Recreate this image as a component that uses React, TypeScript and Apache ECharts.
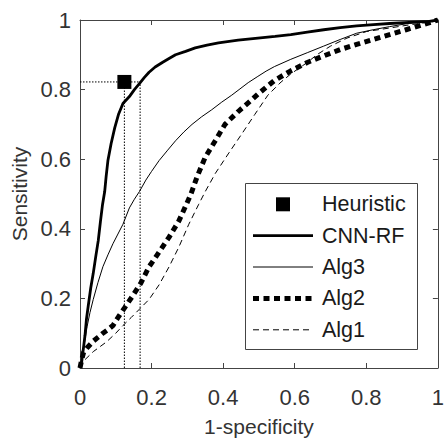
import React, { useEffect, useRef } from "react";
import * as echarts from "echarts";

const X_TICKS = ["0", "0.2", "0.4", "0.6", "0.8", "1"];
const Y_TICKS = ["0", "0.2", "0.4", "0.6", "0.8", "1"];
const LEGEND_NAMES = ["Heuristic", "CNN-RF", "Alg3", "Alg2", "Alg1"];

const HEURISTIC: number[][] = [[0.124, 0.822]];

const CNN_RF: number[][] = [
  [0, 0], [0.005, 0.02], [0.01, 0.06], [0.014, 0.094], [0.018, 0.14], [0.023, 0.178],
  [0.03, 0.23], [0.037, 0.272], [0.044, 0.32], [0.051, 0.366], [0.057, 0.42], [0.063, 0.47],
  [0.069, 0.507], [0.073, 0.55], [0.078, 0.596], [0.087, 0.645], [0.097, 0.69], [0.108, 0.73],
  [0.12, 0.76], [0.138, 0.78], [0.152, 0.8], [0.166, 0.817], [0.18, 0.835], [0.193, 0.85],
  [0.21, 0.865], [0.23, 0.878], [0.25, 0.89], [0.267, 0.9], [0.295, 0.91], [0.322, 0.92],
  [0.355, 0.928], [0.387, 0.934], [0.442, 0.942], [0.497, 0.948], [0.545, 0.953], [0.589, 0.958],
  [0.635, 0.965], [0.681, 0.972], [0.727, 0.978], [0.773, 0.983], [0.82, 0.987], [0.865, 0.99],
  [0.92, 0.993], [0.976, 0.996], [1, 1],
];

const ALG3: number[][] = [
  [0, 0], [0.006, 0.03], [0.012, 0.07], [0.02, 0.12], [0.028, 0.16], [0.037, 0.197],
  [0.05, 0.245], [0.064, 0.291], [0.078, 0.325], [0.092, 0.357], [0.106, 0.385], [0.12, 0.413],
  [0.138, 0.46], [0.152, 0.485], [0.166, 0.507], [0.184, 0.54], [0.2, 0.565], [0.221, 0.596],
  [0.245, 0.626], [0.267, 0.653], [0.29, 0.678], [0.313, 0.7], [0.34, 0.722], [0.368, 0.742],
  [0.396, 0.764], [0.424, 0.784], [0.447, 0.802], [0.47, 0.82], [0.497, 0.838], [0.52, 0.853],
  [0.543, 0.866], [0.589, 0.887], [0.635, 0.906], [0.681, 0.925], [0.727, 0.944], [0.773, 0.962],
  [0.819, 0.972], [0.865, 0.981], [0.911, 0.989], [0.96, 0.995], [1, 1],
];

const ALG2: number[][] = [
  [0, 0], [0.004, 0.02], [0.01, 0.045], [0.02, 0.058], [0.037, 0.077], [0.05, 0.088],
  [0.064, 0.1], [0.078, 0.11], [0.092, 0.122], [0.108, 0.148], [0.124, 0.172], [0.147, 0.207],
  [0.17, 0.244], [0.193, 0.291], [0.221, 0.333], [0.249, 0.376], [0.276, 0.422], [0.295, 0.465],
  [0.31, 0.5], [0.327, 0.549], [0.35, 0.606], [0.378, 0.653], [0.405, 0.7], [0.442, 0.737],
  [0.479, 0.77], [0.497, 0.787], [0.543, 0.826], [0.589, 0.854], [0.635, 0.878], [0.681, 0.897],
  [0.727, 0.915], [0.773, 0.93], [0.819, 0.944], [0.865, 0.958], [0.911, 0.972], [0.957, 0.986],
  [1, 1],
];

const ALG1: number[][] = [
  [0, 0], [0.009, 0.019], [0.037, 0.047], [0.074, 0.075], [0.1, 0.1], [0.12, 0.122],
  [0.143, 0.145], [0.166, 0.169], [0.193, 0.197], [0.221, 0.239], [0.249, 0.291], [0.276, 0.347],
  [0.304, 0.413], [0.331, 0.469], [0.35, 0.507], [0.378, 0.559], [0.414, 0.615], [0.451, 0.671],
  [0.488, 0.728], [0.525, 0.784], [0.562, 0.822], [0.589, 0.845], [0.635, 0.878], [0.663, 0.901],
  [0.7, 0.925], [0.746, 0.948], [0.801, 0.967], [0.865, 0.977], [0.92, 0.986], [0.985, 0.995],
  [1, 1],
];

const GUIDE_H: number[][] = [[0, 0.822], [0.168, 0.822]];
const GUIDE_V1: number[][] = [[0.124, 0], [0.124, 0.822]];
const GUIDE_V2: number[][] = [[0.168, 0], [0.168, 0.822]];

const FONT = "'Liberation Sans', Arial, Helvetica, sans-serif";
const AXIS_COLOR = "#444";
const LABEL_COLOR = "#333";

const STYLE_CNN = { stroke: "#000", lineWidth: 2.8 };
const STYLE_ALG3 = { stroke: "#000", lineWidth: 1 };
const STYLE_ALG2 = { stroke: "#000", lineWidth: 5, lineDash: [6, 4.5] };
const STYLE_ALG1 = { stroke: "#000", lineWidth: 1, lineDash: [6, 4] };

export default function App() {
  const ref = useRef<HTMLDivElement>(null);

  useEffect(() => {
    if (!ref.current) return;
    const chart = echarts.init(ref.current, undefined, { renderer: "svg" });

    const fmt = (labels: string[]) => (v: number) => labels[Math.round(v / 0.2)] ?? "";

    const baseAxis = {
      type: "value" as const,
      min: 0,
      max: 1,
      interval: 0.2,
      splitLine: { show: false },
      axisLine: { show: true, onZero: false, lineStyle: { color: AXIS_COLOR, width: 1 } },
      axisTick: { show: true, inside: true, length: 5, lineStyle: { color: AXIS_COLOR } },
    };

    const guideStyle = { color: "#000", width: 1, type: [1.5, 1.5] as number[] };

    // legend drawn as graphic
    const boxX = 245, boxY = 183, boxW = 172, boxH = 166;
    const rowY = [204.3, 235.6, 267, 298.4, 329.8];
    const lineX1 = 253, lineX2 = 313, textX = 322;
    const lineStyles = [null, STYLE_CNN, STYLE_ALG3, STYLE_ALG2, STYLE_ALG1];
    const legendChildren: any[] = [
      {
        type: "rect",
        shape: { x: boxX + 0.5, y: boxY + 0.5, width: boxW, height: boxH },
        style: { fill: "#fff", stroke: AXIS_COLOR, lineWidth: 1 },
      },
    ];
    LEGEND_NAMES.forEach((name, i) => {
      const ls = lineStyles[i];
      if (ls) {
        legendChildren.push({
          type: "line",
          shape: { x1: lineX1, y1: rowY[i], x2: lineX2, y2: rowY[i] },
          style: { ...ls },
        });
      } else {
        legendChildren.push({
          type: "rect",
          shape: { x: (lineX1 + lineX2) / 2 - 7, y: rowY[i] - 7, width: 14, height: 14 },
          style: { fill: "#000" },
        });
      }
      legendChildren.push({
        type: "text",
        x: textX,
        y: rowY[i],
        style: {
          text: name,
          fontFamily: FONT,
          fontSize: 21.5,
          fill: "#1a1a1a",
          verticalAlign: "middle",
          align: "left",
        },
      });
    });

    chart.setOption({
      animation: false,
      backgroundColor: "#fff",
      grid: { left: 80, right: 5, top: 20, bottom: 67, containLabel: false },
      xAxis: [
        {
          ...baseAxis,
          position: "bottom",
          name: "1-specificity",
          nameLocation: "middle",
          nameGap: 48,
          nameTextStyle: { fontFamily: FONT, fontSize: 21, color: LABEL_COLOR },
          axisLabel: { formatter: fmt(X_TICKS), fontFamily: FONT, fontSize: 22, color: LABEL_COLOR, margin: 18 },
        },
        {
          ...baseAxis,
          position: "top",
          axisLabel: { show: false },
        },
      ],
      yAxis: [
        {
          ...baseAxis,
          position: "left",
          name: "Sensitivity",
          nameLocation: "middle",
          nameGap: 50,
          nameTextStyle: { fontFamily: FONT, fontSize: 21, color: LABEL_COLOR },
          axisLabel: { formatter: fmt(Y_TICKS), fontFamily: FONT, fontSize: 22, color: LABEL_COLOR, margin: 9 },
        },
        {
          ...baseAxis,
          position: "right",
          axisLabel: { show: false },
        },
      ],
      graphic: [{ type: "group", children: legendChildren, z: 100 }],
      series: [
        {
          name: "guideH", type: "line", data: GUIDE_H, showSymbol: false, symbol: "none",
          lineStyle: guideStyle, silent: true, z: 1,
        },
        {
          name: "guideV1", type: "line", data: GUIDE_V1, showSymbol: false, symbol: "none",
          lineStyle: guideStyle, silent: true, z: 1,
        },
        {
          name: "guideV2", type: "line", data: GUIDE_V2, showSymbol: false, symbol: "none",
          lineStyle: guideStyle, silent: true, z: 1,
        },
        {
          name: "Alg1", type: "line", data: ALG1, showSymbol: false, symbol: "none",
          lineStyle: { color: "#000", width: STYLE_ALG1.lineWidth, type: STYLE_ALG1.lineDash }, z: 2,
        },
        {
          name: "Alg2", type: "line", data: ALG2, showSymbol: false, symbol: "none",
          lineStyle: { color: "#000", width: STYLE_ALG2.lineWidth, type: STYLE_ALG2.lineDash }, z: 3,
        },
        {
          name: "Alg3", type: "line", data: ALG3, showSymbol: false, symbol: "none",
          lineStyle: { color: "#000", width: STYLE_ALG3.lineWidth, type: "solid" }, z: 4,
        },
        {
          name: "CNN-RF", type: "line", data: CNN_RF, showSymbol: false, symbol: "none",
          lineStyle: { color: "#000", width: STYLE_CNN.lineWidth, type: "solid" }, z: 5,
        },
        {
          name: "Heuristic", type: "scatter", data: HEURISTIC, symbol: "rect", symbolSize: 14,
          itemStyle: { color: "#000", opacity: 1 }, z: 6,
        },
      ],
    });

    return () => chart.dispose();
  }, []);

  return <div ref={ref} style={{ width: 447, height: 442, position: "absolute", left: 0, top: 0 }} />;
}
